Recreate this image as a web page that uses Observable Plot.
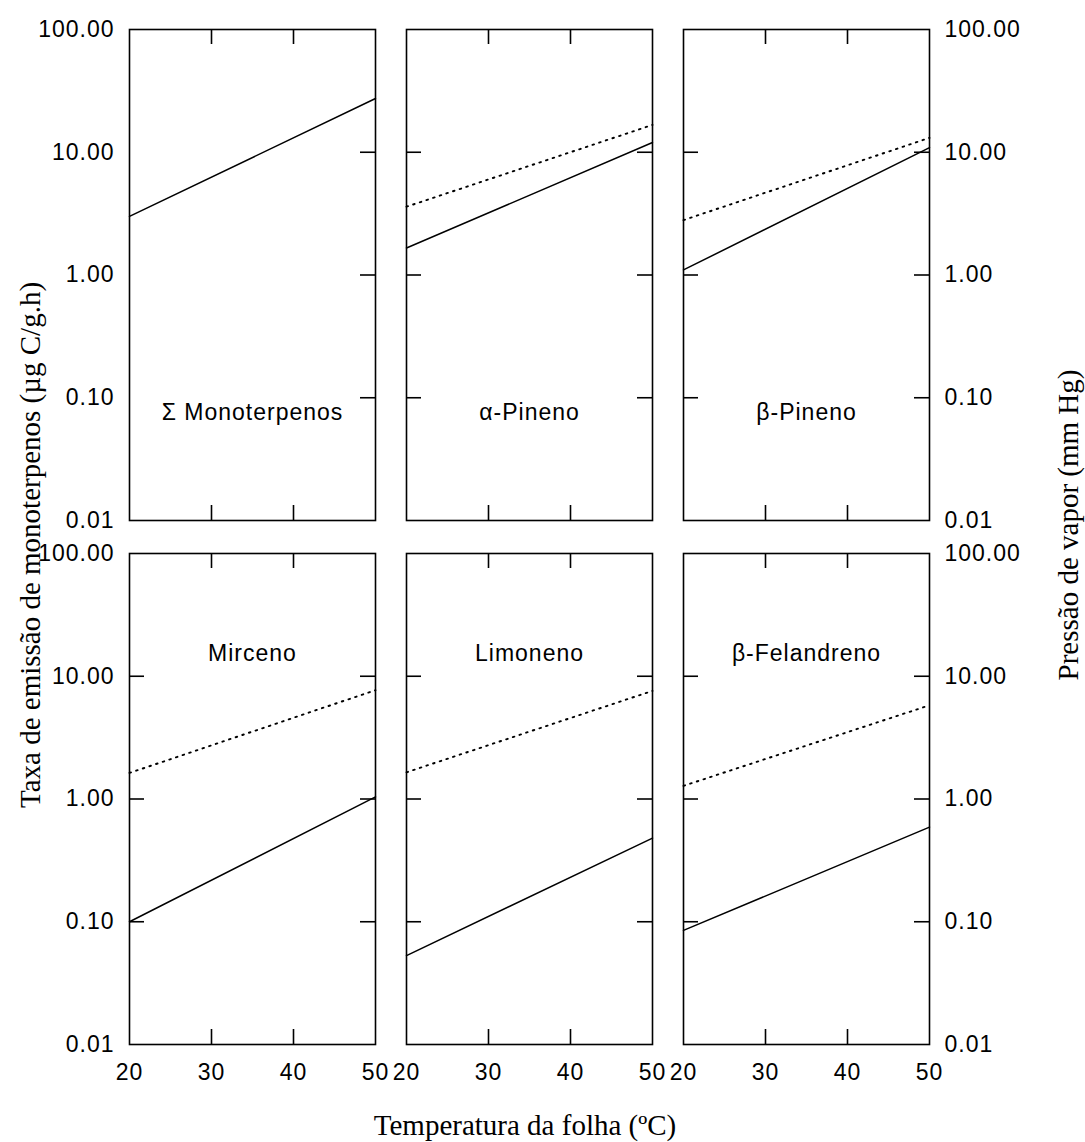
<!DOCTYPE html>
<html>
<head>
<meta charset="utf-8">
<script src="https://cdn.jsdelivr.net/npm/d3@7"></script>
<script src="https://cdn.jsdelivr.net/npm/@observablehq/plot@0.6"></script>
<style>
  body { margin: 0; background: #fff; }
  #wrap { position: relative; width: 1085px; height: 1142px; background: #fff; }
  #wrap svg { position: absolute; left: 0; top: 0; }
  .t { position: absolute; font-family: "Liberation Serif", "Times New Roman", serif; font-size: 29px; color: #000; white-space: nowrap; line-height: 1; }
</style>
</head>
<body>
<div id="wrap"></div>
<script>
// ---- data ----
const panelNames = ["\u03A3 Monoterpenos", "\u03B1-Pineno", "\u03B2-Pineno", "Mirceno", "Limoneno", "\u03B2-Felandreno"];
const panelCol = [0, 1, 2, 0, 1, 2];
const panelRow = [0, 0, 0, 1, 1, 1];
const temperature = [20, 50];
// emission rate (solid line), µg C/g.h
const emissionStart = [3.0, 1.66, 1.10, 0.10, 0.053, 0.085];
const emissionEnd   = [27.4, 12.0, 10.9, 1.04, 0.48, 0.59];
// vapour pressure (dotted line), mm Hg
const vaporStart = [null, 3.6, 2.8, 1.63, 1.65, 1.28];
const vaporEnd   = [null, 16.7, 13.1, 7.7, 7.6, 5.8];
const yTickValues = [0.01, 0.1, 1, 10, 100];
const yInnerTicks = [0.1, 1, 10];
const xTickValues = [20, 30, 40, 50];
const xInnerTicks = [30, 40];
const panelsWithoutLeftTicks = [0];

// ---- tables built from the arrays ----
const emissionRows = [], vaporRows = [], labelRows = [];
panelNames.forEach((name, i) => {
  emissionRows.push({col: panelCol[i], row: panelRow[i], t: temperature[0], v: emissionStart[i]});
  emissionRows.push({col: panelCol[i], row: panelRow[i], t: temperature[1], v: emissionEnd[i]});
  if (vaporStart[i] != null) {
    vaporRows.push({col: panelCol[i], row: panelRow[i], t: temperature[0], v: vaporStart[i]});
    vaporRows.push({col: panelCol[i], row: panelRow[i], t: temperature[1], v: vaporEnd[i]});
  }
  labelRows.push({col: panelCol[i], row: panelRow[i], name});
});
const leftTickRows = [], rightTickRows = [], xTickRows = [];
panelNames.forEach((_, i) => {
  yInnerTicks.forEach(v => {
    if (!panelsWithoutLeftTicks.includes(i)) leftTickRows.push({col: panelCol[i], row: panelRow[i], v});
    rightTickRows.push({col: panelCol[i], row: panelRow[i], v});
  });
  xInnerTicks.forEach(t => xTickRows.push({col: panelCol[i], row: panelRow[i], t}));
});

const fmt = d => d.toFixed(2);
const tickLen = 15;
const panelW = 246, panelH = 491;

const chart = Plot.plot({
  width: 1085,
  height: 1142,
  marginLeft: 128,
  marginRight: 156,
  marginTop: 29,
  marginBottom: 98,
  style: {fontFamily: '"Liberation Sans", Arial, sans-serif', color: "#000", background: "transparent", letterSpacing: "1px", overflow: "visible"},
  fx: {domain: [0, 1, 2], paddingInner: 0.1135, paddingOuter: 0, axis: null, label: null},
  fy: {domain: [0, 1], paddingInner: 0.063, paddingOuter: 0, axis: null, label: null},
  x: {domain: [20, 50]},
  y: {type: "log", domain: [0.01, 100]},
  marks: [
    Plot.frame({stroke: "#000", strokeWidth: 1.6}),
    Plot.tickY(leftTickRows, {fx: "col", fy: "row", y: "v", insetRight: panelW - tickLen, stroke: "#000", strokeWidth: 1.6}),
    Plot.tickY(rightTickRows, {fx: "col", fy: "row", y: "v", insetLeft: panelW - tickLen, stroke: "#000", strokeWidth: 1.6}),
    Plot.tickX(xTickRows, {fx: "col", fy: "row", x: "t", insetBottom: panelH - tickLen, stroke: "#000", strokeWidth: 1.6}),
    Plot.tickX(xTickRows, {fx: "col", fy: "row", x: "t", insetTop: panelH - tickLen, stroke: "#000", strokeWidth: 1.6}),
    Plot.line(vaporRows, {fx: "col", fy: "row", x: "t", y: "v", stroke: "#000", strokeWidth: 1.9, strokeDasharray: "1.6 5.4"}),
    Plot.line(emissionRows, {fx: "col", fy: "row", x: "t", y: "v", stroke: "#000", strokeWidth: 1.5}),
    Plot.text(labelRows.filter(d => d.row === 0), {fx: "col", fy: "row", text: "name", frameAnchor: "bottom", dy: -101, fontSize: 23, fill: "#000"}),
    Plot.text(labelRows.filter(d => d.row === 1), {fx: "col", fy: "row", text: "name", frameAnchor: "top", dy: 91, fontSize: 23, fill: "#000"}),
    Plot.axisY({anchor: "left", ticks: yTickValues, tickFormat: fmt, tickSize: 0, tickPadding: 15, fontSize: 23, label: null}),
    Plot.axisY({anchor: "right", ticks: yTickValues, tickFormat: fmt, tickSize: 0, tickPadding: 15, fontSize: 23, label: null}),
    Plot.axisX({anchor: "bottom", ticks: xTickValues, tickFormat: d => String(d), tickSize: 0, tickPadding: 19, fontSize: 23, label: null})
  ]
});

const wrap = document.getElementById("wrap");
wrap.appendChild(chart);

function addTitle(text, cx, cy, rotate) {
  const d = document.createElement("div");
  d.className = "t";
  d.textContent = text;
  d.style.left = cx + "px";
  d.style.top = cy + "px";
  d.style.transform = "translate(-50%, -50%)" + (rotate ? " rotate(-90deg)" : "");
  wrap.appendChild(d);
}
addTitle("Taxa de emiss\u00E3o de monoterpenos (\u00B5g C/g.h)", 30, 545, true);
addTitle("Press\u00E3o de vapor (mm Hg)", 1068, 525, true);
addTitle("Temperatura da folha (\u00BAC)", 525, 1125, false);
</script>
</body>
</html>
